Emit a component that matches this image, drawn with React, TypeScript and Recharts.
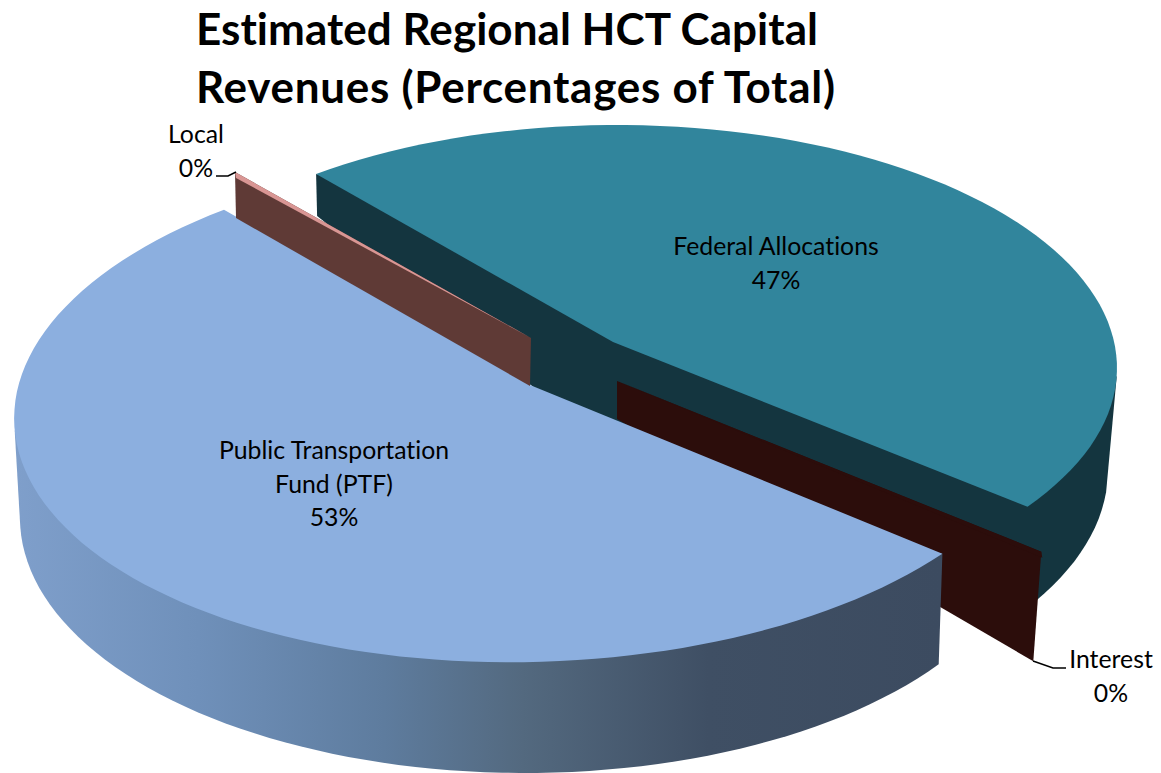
import React from "react";
import { PieChart, Pie } from "recharts";

const titleLines = ["Estimated Regional HCT Capital", "Revenues (Percentages of Total)"];
const sliceNames = ["Federal Allocations", "Interest", "Public Transportation Fund (PTF)", "Local"];
const sliceValues = [47, 0, 53, 0];
const labelLines = [["Federal Allocations"], ["Interest"], ["Public Transportation", "Fund (PTF)"], ["Local"]];

const chartData = sliceNames.map((name, i) => ({ name, value: sliceValues[i] }));

const FONT = "Lato, Carlito, sans-serif";
const TITLE_WIDTHS = [622, 639];

// Projection of the flat pie on to the tilted, exploded 3D view.
type Ell = { cx: number; cy: number; rx: number; ry: number; tilt?: number };
const VIEW: any[] = [
  {
    top: { cx: 617, cy: 368, rx: 500, ry: 243 },
    bottom: { cx: 600, cy: 470, rx: 508, ry: 255 },
    apex: [613, 342], apexLow: [613, 450], drop: [1, 42],
    shift: 0.5, stretch: -0.0437, arc: [5, 31], fill: "#31859c", wall: "#14353f",
  },
  {
    top: { cx: 668, cy: 390, rx: 500, ry: 243 },
    offset: [-8, 109.5],
    apex: [617, 381], apexLow: [617, 419],
    shift: 0, stretch: 0, fill: "#2c0d0b", wall: "#2c0d0b",
  },
  {
    top: { cx: 531, cy: 408, rx: 517, ry: 254, tilt: -1.5 },
    bottom: { cx: 525, cy: 518, rx: 505, ry: 255 },
    apex: [530, 385],
    shift: -3.7, stretch: 0.0288, arc: [35, 178], fill: "#8cafdf", wall: "url(#ptfWall)",
  },
  {
    top: { cx: 539.4, cy: 364.8, rx: 500, ry: 243 },
    offset: [1, 46],
    apex: [531, 338], apexLow: [530, 386],
    shift: 0, stretch: 0, fill: "#d99694", wall: "#5f3a36",
  },
];

const LABELS: any[] = [
  { x: 776, y: 255 },
  { x: 1111, y: 668, leader: "M1033 661 L1053 668 L1066 668" },
  { x: 334, y: 459 },
  { x: 196, y: 143, leader: "M216 176 L228 176 L236 172" },
];

const wallStops = [
  [0, "#7f9fcb"], [0.2, "#6f90ba"], [0.4, "#5e7c9e"], [0.55, "#53697f"], [0.75, "#3f4f64"], [1, "#3c4b60"],
];

function pt(e: Ell, tDeg: number, off = [0, 0]) {
  const t = (tDeg * Math.PI) / 180;
  const a = ((e.tilt || 0) * Math.PI) / 180;
  const x = e.rx * Math.cos(t);
  const y = e.ry * Math.sin(t);
  return [e.cx + x * Math.cos(a) - y * Math.sin(a) + off[0], e.cy + x * Math.sin(a) + y * Math.cos(a) + off[1]];
}
function arc(e: Ell, t0: number, t1: number) {
  const n = Math.max(1, Math.ceil(Math.abs(t1 - t0) / 2));
  const out: number[][] = [];
  for (let i = 0; i <= n; i++) out.push(pt(e, t0 + ((t1 - t0) * i) / n));
  return out;
}
const toPath = (pts: number[][]) => "M" + pts.map((p) => `${p[0].toFixed(1)} ${p[1].toFixed(1)}`).join(" L") + " Z";

function SliceShape(props: any) {
  const v = VIEW[props.index];
  const libStart = -props.startAngle;
  const libEnd = -props.endAngle;
  const rimT = (lib: number) => lib + v.shift + (lib - libStart) * v.stretch;
  const t0 = rimT(libStart);
  const t1 = rimT(libEnd);
  const rim = pt(v.top, t0);

  if (libStart === libEnd) {
    const low = pt(v.top, t0, v.offset);
    return (
      <g>
        <path d={toPath([v.apex, rim, low, v.apexLow])} fill={v.wall} />
        <path d={toPath([v.apex, rim, [rim[0] + 1, rim[1] + 6]])} fill={v.fill} />
      </g>
    );
  }
  const topPath = toPath([v.apex, ...arc(v.top, t0, t1)]);
  let wallPath: string;
  if (v.drop) {
    wallPath = toPath([
      rim,
      [rim[0] + v.drop[0], rim[1] + v.drop[1]],
      v.apexLow,
      ...arc(v.bottom, v.arc[1], v.arc[0]),
      pt(v.top, 2),
    ]);
  } else {
    wallPath = toPath([rim, ...arc(v.bottom, v.arc[0], v.arc[1]), pt(v.top, v.arc[1])]);
  }
  return (
    <g>
      <path d={wallPath} fill={v.wall} />
      <path d={topPath} fill={v.fill} />
    </g>
  );
}

function SliceLabel(props: any) {
  const i = props.index;
  const pos = LABELS[i];
  const lines = [...labelLines[i], `${sliceValues[i]}%`];
  return (
    <g>
      {pos.leader && <path d={pos.leader} fill="none" stroke="#000" strokeWidth={1.5} />}
      <text textAnchor="middle" fontFamily={FONT} fontSize={24.8} fill="#000" style={{ fontVariantLigatures: "none" }}>
        {lines.map((l, k) => (
          <tspan key={k} x={pos.x} y={pos.y + k * 33.5}>{l}</tspan>
        ))}
      </text>
    </g>
  );
}

export default function App() {
  return (
    <div style={{ position: "absolute", left: 0, top: 0, width: 1161, height: 773, overflow: "hidden", background: "#fff" }}>
      <PieChart width={1161} height={773} margin={{ top: 0, right: 0, bottom: 0, left: 0 }}>
        <defs>
          <linearGradient id="ptfWall" gradientUnits="userSpaceOnUse" x1={13} y1={0} x2={940} y2={0}>
            {wallStops.map(([o, c]) => (
              <stop key={o as number} offset={o as number} stopColor={c as string} />
            ))}
          </linearGradient>
        </defs>
        <Pie
          data={chartData}
          dataKey="value"
          nameKey="name"
          cx={560}
          cy={400}
          outerRadius={300}
          startAngle={127.5}
          endAngle={-232.5}
          stroke="none"
          isAnimationActive={false}
          shape={SliceShape}
          label={SliceLabel}
          labelLine={false}
        />
        {titleLines.map((l, i) => (
          <text key={l} x={196} y={45 + i * 58} textLength={TITLE_WIDTHS[i]} lengthAdjust="spacing" fontFamily={FONT} fontWeight={700} fontSize={44} fill="#000" style={{ fontVariantLigatures: "none" }}>{l}</text>
        ))}
      </PieChart>
    </div>
  );
}
